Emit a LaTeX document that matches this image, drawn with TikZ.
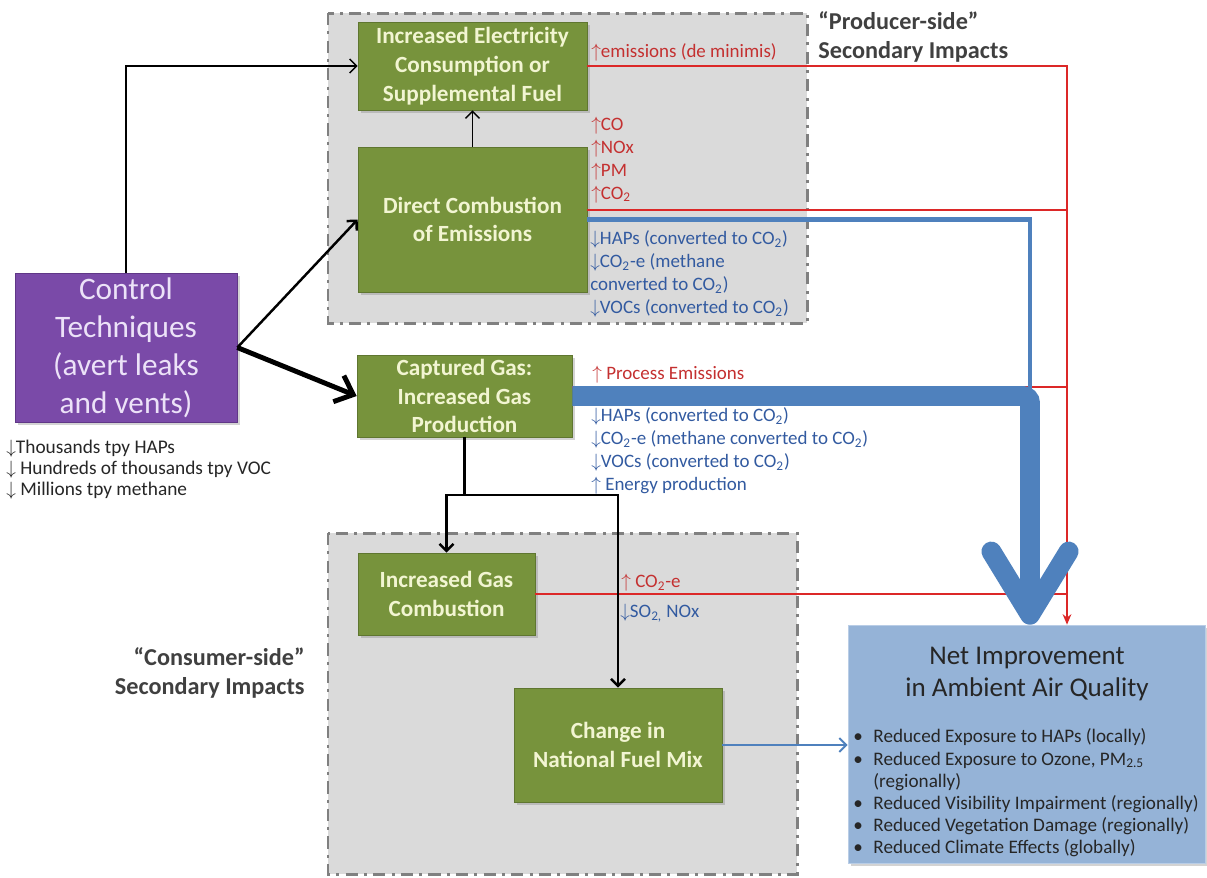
\documentclass[tikz,border=0pt]{standalone}
\usepackage{fontspec}
\setmainfont{Carlito}
\usetikzlibrary{arrows.meta,shadows}

\newcommand{\upar}{$\uparrow$}
\newcommand{\dnar}{$\downarrow$}
\newcommand{\COtwo}{CO\textsubscript{2}}

\begin{document}
\begin{tikzpicture}[x=0.02cm,y=-0.02cm,
  >={Straight Barb[length=4pt,width=8pt]},
  panel/.style={draw=panelgray,fill=panelfill,line width=1.7pt,
    dash pattern=on 7pt off 3.5pt on 1.7pt off 3.5pt},
  boxshadow/.style={drop shadow={shadow xshift=1.5pt,shadow yshift=-1.5pt,opacity=0.35}},
  greenbox/.style={boxshadow,draw=greenedge,fill=greenfill,text=greentext,
    font=\fontsize{13.2}{16.4}\selectfont\bfseries,align=center,inner sep=0pt},
  ctrlbox/.style={boxshadow,draw=ctrledge,fill=ctrlfill,text=ctrltext,
    font=\fontsize{17.8}{21.6}\selectfont,align=center,inner sep=0pt},
  netbox/.style={boxshadow,draw=netedge,fill=netfill,inner sep=0pt},
  redtxt/.style={text=redtext,font=\fontsize{10.8}{13}\selectfont,align=left,anchor=west,inner sep=0pt},
  bluetxt/.style={redtxt,text=bluetext},
  notetxt/.style={text=black!85,font=\fontsize{11}{12}\selectfont,align=left,anchor=west,inner sep=0pt},
  sidelabel/.style={text=black!75,font=\fontsize{13.8}{16.4}\selectfont\bfseries,inner sep=0pt},
  link/.style={->,draw=black,line width=0.8pt},
  mainlink/.style={->,draw=black,line width=1.4pt},
  biglink/.style={-{Straight Barb[length=9pt,width=16pt]},draw=black,line width=2.8pt},
  redline/.style={draw=redwire,line width=0.8pt},
  thinflow/.style={draw=flowblue,line width=2.8pt},
  bigflow/.style={draw=flowblue,line width=11.3pt,rounded corners=4pt,
    -{Straight Barb[length=36pt,width=44pt,round]}},
  fuelflow/.style={->,draw=flowblue,line width=1.1pt}
]
% Define colours
\definecolor{panelgray}{RGB}{128,128,128}
\definecolor{panelfill}{RGB}{218,218,218}
\definecolor{greenfill}{RGB}{119,147,60}
\definecolor{greenedge}{RGB}{95,118,48}
\definecolor{greentext}{RGB}{242,245,210}
\definecolor{ctrlfill}{RGB}{122,74,168}
\definecolor{ctrledge}{RGB}{96,55,135}
\definecolor{ctrltext}{RGB}{236,226,248}
\definecolor{netfill}{RGB}{149,179,215}
\definecolor{netedge}{RGB}{185,205,230}
\definecolor{redtext}{RGB}{196,48,48}
\definecolor{bluetext}{RGB}{50,90,160}
\definecolor{redwire}{RGB}{220,40,40}
\definecolor{flowblue}{RGB}{79,129,189}

\useasboundingbox (0,0) rectangle (1207,877);

% Draw impact panels
\draw[panel] (328,13) rectangle (807,323);
\draw[panel] (328,533) rectangle (797,874);

% Draw boxes
\node (control) [ctrlbox,minimum width=4.44cm,minimum height=2.98cm] at (126,347.5) {Control\\Techniques\\(avert leaks\\and vents)};
\node (elec) [greenbox,minimum width=4.58cm,minimum height=1.76cm] at (472.5,66) {Increased Electricity\\Consumption or\\Supplemental Fuel};
\node (direct) [greenbox,minimum width=4.58cm,minimum height=2.9cm] at (472.5,219.5) {Direct Combustion\\of Emissions};
\node (captured) [greenbox,minimum width=4.3cm,minimum height=1.64cm] at (464.5,396) {Captured Gas:\\Increased Gas\\Production};
\node (gascomb) [greenbox,minimum width=3.54cm,minimum height=1.64cm] at (446.5,594) {Increased Gas\\Combustion};
\node (fuelmix) [greenbox,minimum width=4.16cm,minimum height=2.28cm] at (618,745) {Change in\\National Fuel Mix};
\node (net) [netbox,minimum width=7.14cm,minimum height=4.76cm] at (1026.5,744) {};
\node (nettitle) [text=black!85,font=\fontsize{15.4}{18.5}\selectfont,align=center,inner sep=0pt] at (1027,674) {Net Improvement\\in Ambient Air Quality};
\node (netlist) [text=black!85,font=\fontsize{10.9}{12.6}\selectfont,anchor=north west,inner sep=0pt] at (853,727) {%
  \begin{tabular}{@{}l@{\hspace{6pt}}l@{}}
  \textbullet & Reduced Exposure to HAPs (locally)\\
  \textbullet & Reduced Exposure to Ozone, PM\textsubscript{2.5}\\
   & (regionally)\\
  \textbullet & Reduced Visibility Impairment (regionally)\\
  \textbullet & Reduced Vegetation Damage (regionally)\\
  \textbullet & Reduced Climate Effects (globally)
  \end{tabular}};

% Draw red emission lines
\coordinate (redx) at (1067,66);
\coordinate (directred) at ([yshift=5.4pt]direct.east);
\coordinate (capturedred) at ([yshift=5.1pt]captured.east);
\draw[redline,-{Stealth[length=6pt,width=5pt]}] (elec.east) -| (redx |- net.north);
\draw[redline] (directred) -- (directred -| redx);
\draw[redline] (capturedred) -- (capturedred -| redx);
\draw[redline] (gascomb.east) -- (gascomb.east -| redx);

% Draw blue reduction flows
\coordinate (flowx) at (1030,396);
\draw[thinflow] (direct.east) -| (flowx);
\draw[bigflow] (captured.east) -| (flowx |- net.north);
\draw[fuelflow] (fuelmix.east) -- (net.west |- fuelmix.east);

% Draw black arrows
\draw[link] (control.north) |- (elec.west);
\draw[link] (direct.north) -- (elec.south);
\draw[mainlink] (control.east) -- (direct.west);
\draw[biglink] (control.east) -- (captured.west);
\coordinate (split) at (464.5,495);
\draw[mainlink,-] (captured.south) -- (split);
\draw[mainlink] (split) -| (gascomb.north);
\draw[mainlink] (split) -| (fuelmix.north);

% Add emission labels
\node (elecup) [redtxt] at (591,52) {\upar emissions (de minimis)};
\node (directup) [redtxt] at (591,160) {\upar CO\\\upar NOx\\\upar PM\\\upar\COtwo};
\node (directdown) [bluetxt] at (590,274) {\dnar HAPs (converted to \COtwo)\\\dnar\COtwo-e (methane\\converted to \COtwo)\\\dnar VOCs (converted to \COtwo)};
\node (capturedup) [redtxt] at (592,375) {\upar\ Process Emissions};
\node (captureddown) [bluetxt] at (591,451) {\dnar HAPs (converted to \COtwo)\\\dnar\COtwo-e (methane converted to \COtwo)\\\dnar VOCs (converted to \COtwo)\\\upar\ Energy production};
\node (gasup) [redtxt] at (621,583) {\upar\ \COtwo-e};
\node (gasdown) [bluetxt] at (620,613) {\dnar SO\textsubscript{2,} NOx};
\node (controlnote) [notetxt] at (6,470) {\dnar Thousands tpy HAPs\\\dnar\ Hundreds of thousands tpy VOC\\\dnar\ Millions tpy methane};

% Add side labels
\node (producerlabel) [sidelabel,anchor=west,align=left] at (818,37) {“Producer-side”\\Secondary Impacts};
\node (consumerlabel) [sidelabel,anchor=east,align=right] at (305,673) {“Consumer-side”\\Secondary Impacts};
\end{tikzpicture}
\end{document}
